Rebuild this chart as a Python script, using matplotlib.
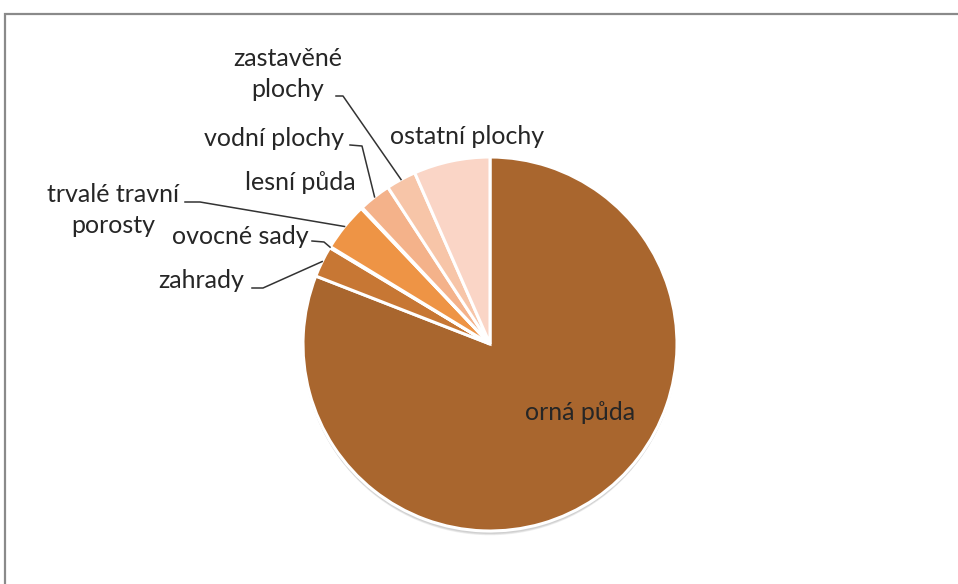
import numpy as np
import matplotlib
matplotlib.use("Agg")
import matplotlib.pyplot as plt
from matplotlib.patches import Circle

categories = ["orná půda", "zahrady", "ovocné sady", "trvalé travní\nporosty",
              "lesní půda", "vodní plochy", "zastavěné\nplochy", "ostatní plochy"]
values = [81.0, 2.7, 0.1, 4.2, 0.1, 2.8, 2.6, 6.6]
colors = ["#A9662E", "#C77734", "#DA8740", "#EE9445", "#F1A26C", "#F4B28A", "#F7C5A8", "#FAD5C6"]

W, H = 958, 584
fig = plt.figure(figsize=(W / 100, H / 100), dpi=100)
ax = fig.add_axes([0, 0, 1, 1])

def Y(y):
    return H - y

cx, cy, r = 490, 344, 187

# frame (partly cropped)
ax.plot([5, 5, W + 5], [Y(H + 5), Y(14), Y(14)], color="#8a8a8a", lw=1.6,
        solid_joinstyle="miter", zorder=1)

# soft shadow
for i, a in enumerate([0.04, 0.05, 0.05, 0.06]):
    ax.add_patch(Circle((cx, Y(cy) - 2 - i), r + 0.5 - i * 0.4, color="black", alpha=a,
                        lw=0, zorder=2))

wedges, _ = ax.pie(values, colors=colors, startangle=90, counterclock=False,
                   center=(cx, Y(cy)), radius=r, frame=True,
                   wedgeprops=dict(edgecolor="white", linewidth=2.2, zorder=3))
ax.set_xlim(0, W)
ax.set_ylim(0, H)
ax.set_aspect("equal")
ax.axis("off")

font = dict(family=["Lato", "DejaVu Sans"], fontsize=18, color="#262626")

def edge_point(idx, frac=0.5):
    w = wedges[idx]
    t = np.deg2rad(w.theta1 + (w.theta2 - w.theta1) * frac)
    return cx + r * np.cos(t), Y(cy) + r * np.sin(t)

# label positions (pixel coordinates, y from top)
label_pos = {
    0: (580, 412),
    1: (201, 281),
    2: (240, 237),
    3: (113, 210),
    4: (300, 183),
    5: (274, 139),
    6: (288, 74),
    7: (467, 137),
}
for i, (x, y) in label_pos.items():
    ax.text(x, Y(y), categories[i], ha="center", va="center", linespacing=1.4,
            zorder=5, **font)

# leader lines: (start near label, elbow)
leaders = {
    1: [(252, 288), (263, 288)],
    2: [(312, 241), (324, 242)],
    3: [(185, 202), (200, 202)],
    5: [(350, 145), (362, 146)],
    6: [(336, 96), (343, 96)],
}
for i, pts in leaders.items():
    ex, ey = edge_point(i)
    xs = [p[0] for p in pts] + [ex]
    ys = [Y(p[1]) for p in pts] + [ey]
    ax.plot(xs, ys, color="#333333", lw=1.1, zorder=4)

fig.savefig("out.png", dpi=100)
